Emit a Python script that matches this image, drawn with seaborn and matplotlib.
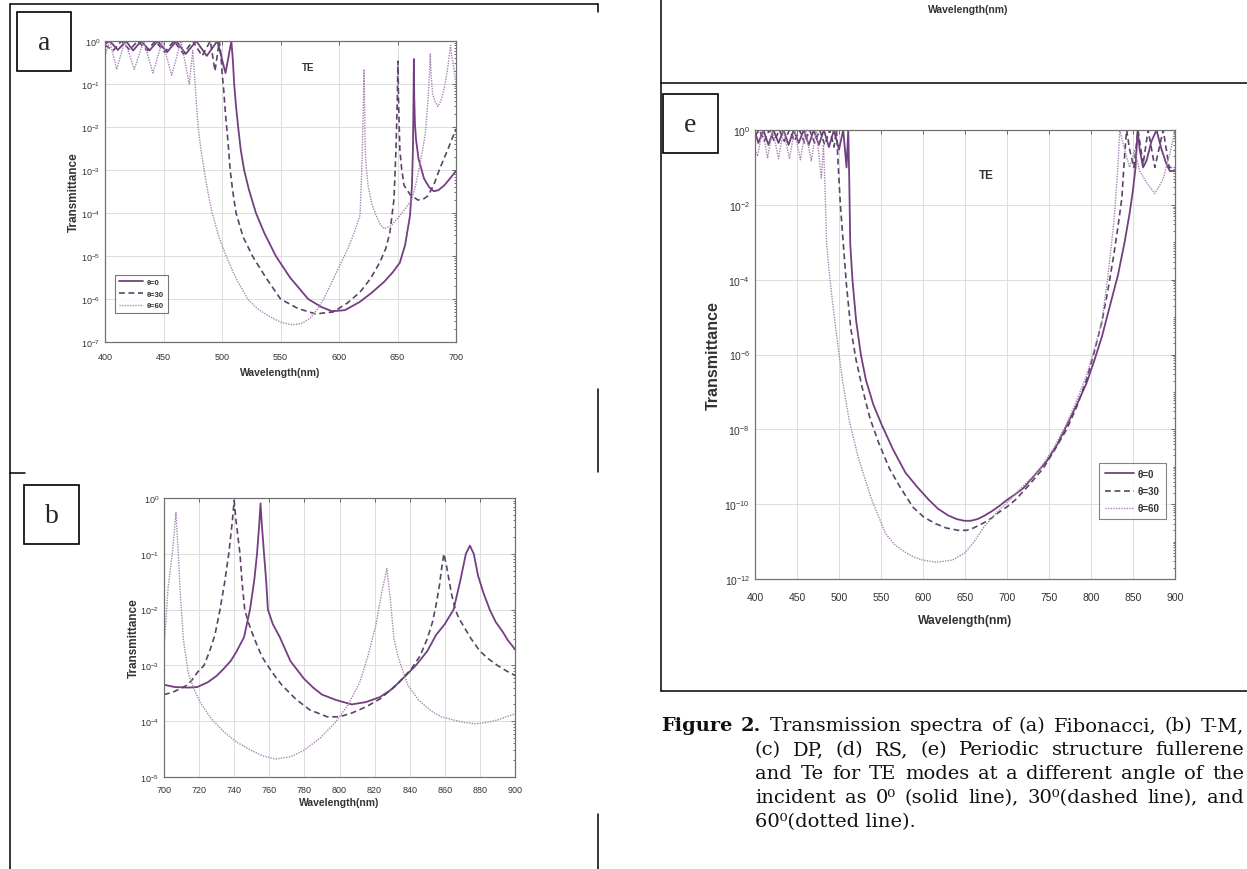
import numpy as np
import matplotlib
matplotlib.use("Agg")
import matplotlib.pyplot as plt
import seaborn as sns
from matplotlib import ticker
from matplotlib.lines import Line2D
from matplotlib.patches import Rectangle

# ---------------- data ----------------
labels = ["θ=0", "θ=30", "θ=60"]

# Panel (a) Fibonacci
a_wl0 = [400, 404, 411, 418, 424, 431, 438, 445, 453, 461, 469, 478, 487, 496, 503, 506, 508, 509.3, 510.4,
         512, 513.8, 516, 518.9, 523, 529, 536, 546, 558, 573.6, 585, 594, 605, 617.6, 628, 638.5, 646,
         652, 656.5, 660.7, 662.3, 663.2, 663.7, 664, 664.3, 664.9, 665.8, 668, 672.7, 677, 681, 685, 690,
         695, 700]
a_t0 = [0.85, 1.0, 0.62, 1.0, 0.6, 1.0, 0.6, 1.0, 0.55, 1.0, 0.5, 1.0, 0.45, 1.0, 0.18, 0.5, 1.0, 0.35, 0.1,
        0.03, 0.01, 3e-3, 1e-3, 3.5e-4, 1e-4, 3.5e-5, 1e-5, 3.2e-6, 1e-6, 6.5e-7, 5.2e-7, 5.5e-7, 8.5e-7,
        1.4e-6, 2.5e-6, 4.2e-6, 7e-6, 1.8e-5, 8.7e-5, 4e-4, 3e-3, 0.05, 0.38, 0.05, 0.012, 5.2e-3, 1.8e-3,
        6.3e-4, 4e-4, 3.2e-4, 3.4e-4, 4.4e-4, 6.4e-4, 9.5e-4]
a_wl30 = [400, 407, 414, 421, 428, 436, 443, 451, 459, 467, 475, 483, 490, 494, 497.7, 499, 500, 501.5, 503,
          505, 507, 509, 512, 518, 526, 537, 550, 565, 580, 595, 607, 618, 627, 635, 640, 643.5, 647, 648.7,
          649.8, 650.4, 650.9, 652, 653.5, 655.6, 660.7, 667.5, 672, 676, 681, 686, 693, 700]
a_t30 = [0.8, 0.6, 1.0, 0.62, 1.0, 0.6, 1.0, 0.55, 1.0, 0.5, 1.0, 0.45, 1.0, 0.2, 1.0, 0.5, 0.2, 0.07, 0.02,
         5e-3, 1e-3, 3.5e-4, 1e-4, 2.8e-5, 1e-5, 3.3e-6, 1e-6, 6e-7, 4.5e-7, 5e-7, 8e-7, 1.45e-6, 3e-6,
         7.2e-6, 1.5e-5, 3.5e-5, 2.1e-4, 3e-3, 0.04, 0.34, 0.04, 3e-3, 1.1e-3, 4.4e-4, 2.7e-4, 2e-4, 2.1e-4,
         2.5e-4, 4.5e-4, 1.05e-3, 3e-3, 9e-3]
a_wl60 = [400, 404, 410, 417, 425, 433, 441, 449, 457, 465, 472, 475, 477, 478.3, 479.6, 482, 484.7, 488,
          491.6, 497, 503.5, 512, 522, 530, 540, 550, 560, 568, 575, 581, 587, 594, 601, 606, 611, 615, 618,
          619.6, 620.8, 621.4, 621.9, 622.4, 623.5, 624.8, 628, 631.6, 635, 638.5, 645, 652, 657, 662.4,
          666, 669, 672, 674, 676, 677.2, 678, 678.8, 680, 682, 684.5, 687, 690, 692.5, 694.5, 695.3,
          696.1, 698, 700]
a_t60 = [0.45, 1.0, 0.22, 1.0, 0.22, 1.0, 0.18, 1.0, 0.16, 1.0, 0.1, 0.6, 0.1, 0.03, 1e-2, 3e-3, 1e-3,
         3e-4, 1e-4, 3e-5, 1e-5, 3e-6, 1e-6, 6e-7, 4e-7, 2.9e-7, 2.5e-7, 2.7e-7, 3.5e-7, 5.5e-7, 1e-6,
         2.5e-6, 6.3e-6, 1.2e-5, 2.5e-5, 5e-5, 9e-5, 1.3e-3, 0.03, 0.22, 0.03, 3e-3, 1e-3, 4.4e-4, 1.6e-4,
         9e-5, 5.5e-5, 4.3e-5, 5.2e-5, 8.7e-5, 1.3e-4, 2.1e-4, 5e-4, 1.3e-3, 3.5e-3, 8e-3, 0.04, 0.15,
         0.5, 0.15, 0.06, 0.04, 0.03, 0.04, 0.08, 0.2, 0.5, 0.8, 0.5, 0.25, 0.1]

# Panel (b) T-M
b_wl0 = [700, 706, 713.7, 719, 725, 730, 734, 738, 741, 745.6, 749, 751.5, 753, 754.3, 755, 755.7, 757,
         758.3, 759.2, 762, 766, 772, 779.7, 785, 790, 798, 807, 815, 823, 829, 834, 843.5, 850, 855, 860,
         865, 869, 872, 874.3, 876.5, 879, 882, 885.6, 889, 893, 896, 900]
b_t0 = [4.5e-4, 4.1e-4, 4e-4, 4.1e-4, 5e-4, 6.5e-4, 8.7e-4, 1.2e-3, 1.7e-3, 3.2e-3, 0.01, 0.035, 0.1, 0.35,
        0.8, 0.35, 0.1, 0.03, 0.01, 5.5e-3, 3.2e-3, 1.2e-3, 5.8e-4, 4e-4, 3e-4, 2.4e-4, 2e-4, 2.2e-4,
        2.7e-4, 3.6e-4, 5e-4, 1e-3, 1.8e-3, 3.5e-3, 5.5e-3, 0.01, 0.035, 0.1, 0.14, 0.1, 0.04, 0.02, 0.01,
        6e-3, 4e-3, 2.8e-3, 1.95e-3]
b_wl30 = [700, 705, 709, 713, 716, 719, 722.8, 726, 729, 731.9, 734.5, 736.9, 739, 740, 741, 743.3, 744.5,
          746, 748, 750, 753, 756, 761.5, 767, 775, 783, 793, 800, 807, 815, 823, 832, 841, 846, 850, 853,
          855, 857, 858, 859.5, 861, 862, 864, 866, 868, 870.8, 875, 880, 885, 890, 895, 900]
b_t30 = [3e-4, 3.3e-4, 3.8e-4, 4.4e-4, 5.5e-4, 7.5e-4, 1e-3, 1.8e-3, 3.5e-3, 0.01, 0.03, 0.1, 0.4, 0.9, 0.4,
         0.1, 0.03, 0.01, 6e-3, 4e-3, 2.3e-3, 1.4e-3, 7.6e-4, 4.5e-4, 2.5e-4, 1.6e-4, 1.2e-4, 1.2e-4,
         1.4e-4, 1.8e-4, 2.5e-4, 4.3e-4, 8.7e-4, 1.5e-3, 3e-3, 6e-3, 0.012, 0.028, 0.05, 0.1, 0.06, 0.04,
         0.018, 0.01, 7e-3, 5e-3, 3e-3, 1.8e-3, 1.3e-3, 1e-3, 8e-4, 6.6e-4]
b_wl60 = [700, 702.3, 705, 706.8, 708, 709.1, 711, 713.7, 717, 720.5, 727, 734, 741, 748, 756, 763.8, 772,
          779.7, 789, 798, 805, 811.6, 816, 820.7, 824, 827, 829, 831, 833, 835, 839, 845, 852.6, 858, 865,
          871, 877.7, 884, 890, 895, 900]
b_t60 = [2e-3, 0.024, 0.12, 0.56, 0.12, 0.024, 3e-3, 7.6e-4, 3.8e-4, 2.2e-4, 1.1e-4, 6.5e-5, 4.3e-5, 3.2e-5,
         2.4e-5, 2.1e-5, 2.3e-5, 3e-5, 5e-5, 9.8e-5, 2e-4, 5e-4, 1.4e-3, 5.2e-3, 0.02, 0.054, 0.015, 3e-3,
         1.6e-3, 1e-3, 4.4e-4, 2.4e-4, 1.5e-4, 1.2e-4, 1.05e-4, 9.5e-5, 9e-5, 9.5e-5, 1.05e-4, 1.2e-4,
         1.35e-4]

# Panel (e) periodic structure
e_wl0 = [400, 404, 410, 416, 422, 428, 434, 440, 446, 452, 458, 464, 470, 476, 482, 488, 494, 500, 505, 509,
         511, 512.2, 513.4, 516, 520.4, 526, 532, 541, 551, 564, 579, 593, 607, 618, 630, 640, 649, 657, 665,
         673, 682, 691, 700, 710, 719.6, 733, 747.7, 760, 771, 783, 794.6, 804, 813, 823, 832, 840, 846, 850,
         853, 855.5, 858, 862, 866, 872, 878, 884, 890, 894, 900]
e_t0 = [0.9, 0.45, 1.0, 0.4, 1.0, 0.45, 1.0, 0.4, 1.0, 0.45, 1.0, 0.4, 1.0, 0.4, 1.0, 0.35, 1.0, 0.3, 1.0,
        0.1, 1.0, 0.05, 9e-4, 1e-4, 8e-6, 1e-6, 2.1e-7, 4.5e-8, 1.3e-8, 3e-9, 7e-10, 2.9e-10, 1.3e-10,
        7.5e-11, 5e-11, 4e-11, 3.6e-11, 3.6e-11, 4e-11, 4.9e-11, 6.5e-11, 9e-11, 1.3e-10, 1.85e-10, 2.7e-10,
        6e-10, 1.45e-9, 4e-9, 1.26e-8, 4.5e-8, 1.7e-7, 7e-7, 3e-6, 2.2e-5, 1.3e-4, 1e-3, 6e-3, 0.025, 0.1,
        1.0, 0.3, 0.1, 0.15, 0.5, 1.0, 0.3, 0.12, 0.08, 0.08]
e_wl30 = [400, 405, 411, 417, 423, 429, 435, 441, 447, 453, 459, 465, 471, 477, 483, 489, 494, 497, 499,
          501.7, 505, 508.7, 514, 520.4, 528, 536.8, 547, 560, 573, 588, 601, 615, 628, 642, 652, 660, 672.7,
          682, 690, 700, 710, 726, 743, 757, 771, 783, 794.6, 804, 813, 820, 827, 832, 836.7, 840, 842.4, 846,
          851, 856, 862, 868, 876, 886, 893, 900]
e_t30 = [0.7, 1.0, 0.5, 1.0, 0.5, 1.0, 0.5, 1.0, 0.5, 1.0, 0.45, 1.0, 0.45, 1.0, 0.4, 1.0, 0.35, 1.0, 0.12,
         9.5e-3, 1e-3, 8e-5, 5e-6, 7e-7, 1.2e-7, 2e-8, 4.5e-9, 9e-10, 2.8e-10, 8.3e-11, 4.5e-11, 3e-11,
         2.3e-11, 2e-11, 2e-11, 2.3e-11, 3.2e-11, 4.3e-11, 6e-11, 8.5e-11, 1.3e-10, 3.2e-10, 9e-10, 2.9e-9,
         1e-8, 4e-8, 2.1e-7, 1.2e-6, 7.6e-6, 5e-5, 4.4e-4, 2.5e-3, 1.5e-2, 0.2, 1.0, 0.3, 0.1, 1.0, 0.12,
         1.0, 0.1, 1.0, 0.1, 0.1]
e_wl60 = [400, 403, 409, 415, 421, 428, 434, 441, 447, 454, 460, 467, 473, 479, 481.5, 483, 485.3, 488.5,
          492.3, 497, 504, 512, 522.8, 538, 555.6, 567, 580, 590, 600, 616, 635, 650, 661, 672.7, 686, 700,
          719, 738, 755, 771, 783, 794.6, 804, 813, 820, 827, 832, 834.2, 840, 846, 852, 858, 866, 876, 886,
          895, 900]
e_t60 = [0.3, 0.2, 1.0, 0.18, 1.0, 0.17, 1.0, 0.17, 1.0, 0.16, 1.0, 0.15, 1.0, 0.05, 0.4, 0.05, 9e-4, 1.5e-4,
         2.5e-5, 3.5e-6, 2.1e-7, 1.8e-8, 1.8e-9, 1.5e-10, 1.6e-11, 8e-12, 5e-12, 3.8e-12, 3.2e-12, 2.8e-12,
         3.2e-12, 5e-12, 1e-11, 2.5e-11, 5.5e-11, 1.1e-10, 3e-10, 8e-10, 3e-9, 1.4e-8, 6e-8, 2.7e-7, 1.4e-6,
         7.6e-6, 1.2e-4, 3e-3, 0.1, 1.0, 0.3, 0.1, 0.3, 0.08, 0.04, 0.02, 0.05, 0.3, 1.0]

caption_lines = [
    ["Figure", "2.", "Transmission", "spectra", "of", "(a)", "Fibonacci,", "(b)", "T-M,"],
    ["(c)", "DP,", "(d)", "RS,", "(e)", "Periodic", "structure", "fullerene"],
    ["and", "Te", "for", "TE", "modes", "at", "a", "different", "angle", "of", "the"],
    ["incident", "as", "0⁰", "(solid", "line),", "30⁰(dashed", "line),", "and"],
]
caption_last = "60⁰(dotted line)."

# ---------------- style ----------------
W, H, DPI = 1247, 870, 100
sns.set_theme(style="whitegrid")
plt.rcParams['font.family'] = ['Liberation Sans', 'DejaVu Sans']
plt.rcParams['axes.unicode_minus'] = True

C0, C30, C60 = '#743f80', '#5a4566', '#a884b2'
LS = {'0': ('-', 1.3, C0), '30': ((0, (3.5, 2.2)), 1.2, C30), '60': ((0, (1, 0.9)), 1.0, C60)}

fig = plt.figure(figsize=(W / DPI, H / DPI), dpi=DPI)
fig.patch.set_facecolor('white')


def fx(x):
    return x / W


def fy(y):
    return 1 - y / H


def rect(l, t, r, b):
    return [fx(l), fy(b), (r - l) / W, (b - t) / H]


def draw(ax, wl, t, key, label):
    ls, lw, c = LS[key]
    sns.lineplot(x=wl, y=t, ax=ax, color=c, linewidth=lw, estimator=None, sort=False, legend=False)
    ln = ax.get_lines()[-1]
    ln.set_linestyle(ls)
    ln.set_label(label)
    return ln


def style(ax, xlim, xticks, ylim, yticks, tick_fs, xpad, xl_fs, yl_fs, xl_y, yl_x):
    ax.set_yscale('log')
    ax.set_xlim(*xlim)
    ax.set_ylim(*ylim)
    ax.set_xticks(xticks)
    ax.xaxis.set_major_formatter(ticker.FormatStrFormatter('%d'))
    ax.yaxis.set_major_locator(ticker.FixedLocator(yticks))
    ax.yaxis.set_major_formatter(ticker.LogFormatterSciNotation())
    ax.yaxis.set_minor_locator(ticker.LogLocator(base=10, subs=np.arange(1, 10), numticks=200))
    ax.yaxis.set_minor_formatter(ticker.NullFormatter())
    ax.set_facecolor('white')
    ax.grid(True, which='major', color='#dddddd', linewidth=0.7)
    ax.grid(False, which='minor')
    ax.tick_params(which='both', direction='in', top=True, right=True, labelsize=tick_fs,
                   labelcolor='#333333', color='#555555', width=0.6, length=3)
    ax.tick_params(which='minor', length=1.5)
    ax.tick_params(axis='x', pad=xpad)
    ax.tick_params(axis='y', pad=3.5)
    for s in ax.spines.values():
        s.set_color('#707070')
        s.set_linewidth(0.9)
    ax.set_xlabel('Wavelength(nm)', fontsize=xl_fs, fontweight='bold', color='#333333')
    ax.set_ylabel('Transmittance', fontsize=yl_fs, fontweight='bold', color='#333333')
    ax.xaxis.set_label_coords(0.5, xl_y)
    ax.yaxis.set_label_coords(yl_x, 0.5)


# ---------------- panel (a) ----------------
ax_a = fig.add_axes(rect(105, 42, 456, 343))
style(ax_a, (400, 700), np.arange(400, 701, 50), (1e-7, 1), [10.0 ** k for k in range(-7, 1)],
      6.5, 7.5, 7.5, 8.5, -0.083, -0.071)
la = [draw(ax_a, a_wl0, a_t0, '0', labels[0]),
      draw(ax_a, a_wl30, a_t30, '30', labels[1]),
      draw(ax_a, a_wl60, a_t60, '60', labels[2])]
leg = ax_a.legend(handles=la, loc='upper left', bbox_to_anchor=(fx(115), fy(276)),
                  bbox_transform=fig.transFigure, fontsize=5.5, frameon=True, fancybox=False,
                  edgecolor='#555555', handlelength=3.2, borderpad=0.5, labelspacing=0.55,
                  handletextpad=0.5, borderaxespad=0)
leg.get_frame().set_linewidth(0.8)
for t in leg.get_texts():
    t.set_color('#333333')
    t.set_fontweight('bold')
fig.text(fx(308), fy(68), 'TE', fontsize=7, fontweight='bold', color='#333333', ha='center', va='center')

# ---------------- panel (b) ----------------
ax_b = fig.add_axes(rect(164, 499, 515, 778))
style(ax_b, (700, 900), np.arange(700, 901, 20), (1e-5, 1), [10.0 ** k for k in range(-5, 1)],
      6.5, 6.0, 7.5, 8.5, -0.072, -0.068)
draw(ax_b, b_wl0, b_t0, '0', labels[0])
draw(ax_b, b_wl30, b_t30, '30', labels[1])
draw(ax_b, b_wl60, b_t60, '60', labels[2])

# ---------------- panel (e) ----------------
ax_e = fig.add_axes(rect(755, 131, 1175, 580))
style(ax_e, (400, 900), np.arange(400, 901, 50), (1e-12, 1), [10.0 ** k for k in range(-12, 1, 2)],
      7.5, 9.5, 8.7, 11.5, -0.078, -0.081)
le = [draw(ax_e, e_wl0, e_t0, '0', labels[0]),
      draw(ax_e, e_wl30, e_t30, '30', labels[1]),
      draw(ax_e, e_wl60, e_t60, '60', labels[2])]
leg = ax_e.legend(handles=le, loc='upper left', bbox_to_anchor=(fx(1099), fy(464)),
                  bbox_transform=fig.transFigure, fontsize=7, frameon=True, fancybox=False,
                  edgecolor='#666666', handlelength=3.0, borderpad=0.6, labelspacing=0.75,
                  handletextpad=0.4, borderaxespad=0)
leg.get_frame().set_linewidth(0.8)
for t in leg.get_texts():
    t.set_color('#333333')
    t.set_fontweight('bold')
fig.text(fx(986), fy(176), 'TE', fontsize=8.5, fontweight='bold', color='#333333', ha='center', va='center')

# label of the panel above, cut off by the frame
fig.text(fx(968), fy(10), 'Wavelength(nm)', fontsize=7.5, fontweight='bold', color='#333333',
         ha='center', va='center')

# ---------------- frame lines and letter boxes ----------------
def hline(x0, x1, y):
    fig.add_artist(Line2D([fx(x0), fx(x1)], [fy(y), fy(y)], transform=fig.transFigure, color='black', lw=1.1))


def vline(x, y0, y1):
    fig.add_artist(Line2D([fx(x), fx(x)], [fy(y0), fy(y1)], transform=fig.transFigure, color='black', lw=1.1))


hline(10, 598, 4.5)
vline(598, 4.5, 13)
vline(10, 4.5, 870)
hline(10, 25, 474)
vline(598, 390, 473)
vline(598, 815, 870)
vline(661, 0, 692)
hline(661, 1247, 84)
hline(661, 1247, 692)

serif = ['Liberation Serif', 'DejaVu Serif']
for (l, t, r, b, s) in [(17, 13, 71, 72, 'a'), (24, 486, 79, 545, 'b'), (663, 95, 718, 154, 'e')]:
    fig.add_artist(Rectangle((fx(l), fy(b)), (r - l) / W, (b - t) / H, transform=fig.transFigure,
                             fill=False, edgecolor='black', linewidth=1.2))
    fig.text(fx((l + r) / 2), fy((t + b) / 2 + 1), s, fontsize=20, family=serif, ha='center', va='center')

# ---------------- caption (justified) ----------------
cap_font = ['DejaVu Serif']
cap_fs = 14
renderer = fig.canvas.get_renderer()
cap_y = [731, 755, 779, 803]
for i, words in enumerate(caption_lines):
    x0 = 661 if i == 0 else 755
    x1 = 1244
    objs, widths = [], []
    for j, w in enumerate(words):
        bold = (i == 0 and j < 2)
        t = fig.text(0, fy(cap_y[i]), w, fontsize=cap_fs, family=cap_font,
                     fontweight='bold' if bold else 'normal', ha='left', va='baseline', color='#111111')
        objs.append(t)
        widths.append(t.get_window_extent(renderer=renderer).width)
    gap = max(((x1 - x0) - sum(widths)) / (len(words) - 1), 3.0)
    x = x0
    for t, wdt in zip(objs, widths):
        t.set_x(fx(x))
        x += wdt + gap
fig.text(fx(755), fy(827), caption_last, fontsize=cap_fs, family=cap_font, ha='left', va='baseline',
         color='#111111')

fig.savefig('out.png', dpi=DPI, facecolor='white')
